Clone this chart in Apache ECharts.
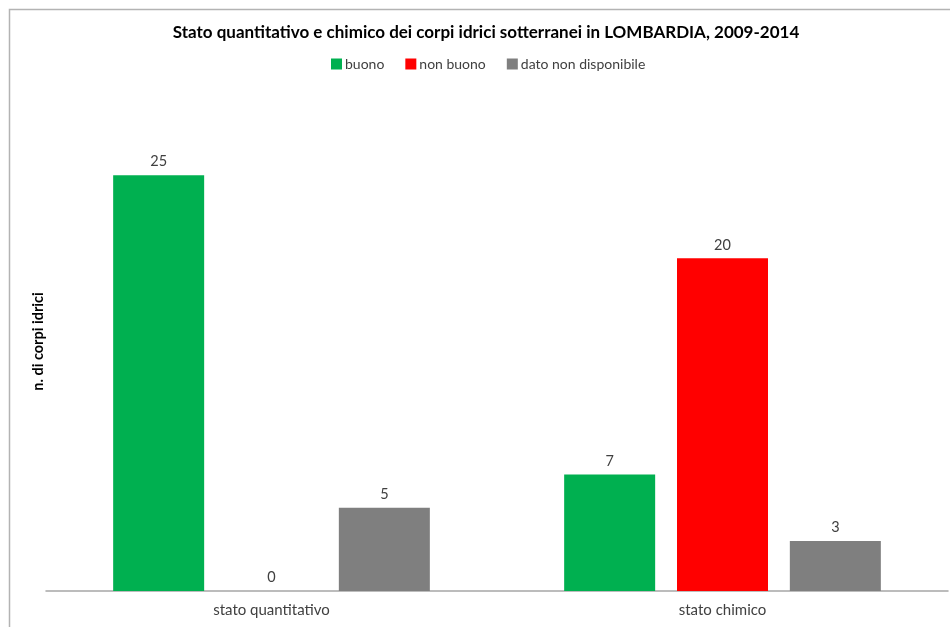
<!DOCTYPE html>
<html>
<head>
<meta charset="utf-8">
<script src="https://cdn.jsdelivr.net/npm/echarts@6/dist/echarts.min.js"></script>
<style>
  html, body { margin: 0; padding: 0; background: #fff; }
  #chart { width: 950px; height: 627px; }
</style>
</head>
<body>
<div id="chart"></div>
<script>
const categories = ['stato quantitativo', 'stato chimico']
const buono = [25, 7]
const nonBuono = [0, 20]
const nonDisponibile = [5, 3]

const font = 'Lato, "Open Sans", sans-serif'
const chart = echarts.init(document.getElementById('chart'))

const label = {
  show: true,
  position: 'top',
  distance: 6,
  color: '#404040',
  fontSize: 14.5,
  fontFamily: font
}

const option = {
  backgroundColor: '#fff',
  textStyle: { fontFamily: font },
  title: {
    text: 'Stato quantitativo e chimico dei corpi idrici sotterranei in LOMBARDIA, 2009-2014',
    left: 481,
    textAlign: 'center',
    top: 19,
    textStyle: { fontSize: 17, fontWeight: 'bold', color: '#000', fontFamily: font }
  },
  legend: {
    top: 52,
    left: 326,
    itemWidth: 11,
    itemHeight: 11,
    itemGap: 21,
    icon: 'rect',
    textStyle: { fontSize: 14, color: '#404040', fontFamily: font, padding: [0, 0, 0, -2] },
    data: ['buono', 'non buono', 'dato non disponibile']
  },
  graphic: [
    {
      type: 'rect',
      shape: { x: 9.5, y: 9.5, width: 980, height: 660 },
      style: { fill: 'none', stroke: '#b3b3b3', lineWidth: 1.5 },
      silent: true
    }
  ],
  grid: { left: 46, right: 2, top: 92, bottom: 36 },
  xAxis: {
    type: 'category',
    data: categories,
    axisTick: { show: false },
    axisLine: { lineStyle: { color: '#a6a6a6', width: 1.5 } },
    axisLabel: { color: '#404040', fontSize: 15, margin: 12, fontFamily: font }
  },
  yAxis: {
    type: 'value',
    min: 0,
    max: 30,
    name: 'n. di corpi idrici',
    nameLocation: 'middle',
    nameGap: 0,
    nameTextStyle: { fontSize: 14.5, fontWeight: 'bold', color: '#000', fontFamily: font },
    axisLine: { show: false },
    axisTick: { show: false },
    axisLabel: { show: false },
    splitLine: { show: false }
  },
  series: [
    {
      name: 'buono', type: 'bar', data: buono,
      barWidth: 91, barGap: '24%',
      itemStyle: { color: '#00b050' }, label
    },
    {
      name: 'non buono', type: 'bar', data: nonBuono,
      barWidth: 91,
      itemStyle: { color: '#ff0000' }, label
    },
    {
      name: 'dato non disponibile', type: 'bar', data: nonDisponibile,
      barWidth: 91,
      itemStyle: { color: '#7f7f7f' }, label
    }
  ]
}

chart.setOption(option)
</script>
</body>
</html>
